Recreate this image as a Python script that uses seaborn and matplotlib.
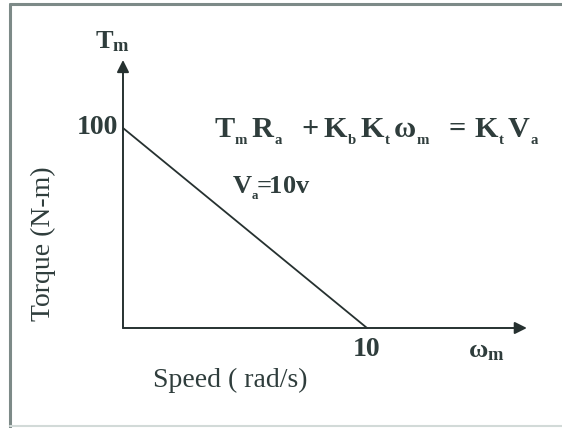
import matplotlib
matplotlib.use("Agg")
import matplotlib.pyplot as plt
from matplotlib.lines import Line2D
import seaborn as sns

# Torque-speed characteristic of a DC motor at Va = 10 V
speed = [0, 10]          # rad/s
torque = [100, 0]        # N-m
y_tick_label = "100"
x_tick_label = "10"
equation = (r"$\mathbf{T_{_m}\,R_{_a}\ \ +K_{_b}\,K_{_t}\,\omega_{_m}\ \ "
            r"=\,K_{_t}\,V_{_a}}$")
voltage_label = r"$\mathbf{V_{_a}\!\!=\!\!10v}$"

sns.set_theme(style="white")
plt.rcParams["font.family"] = ["Liberation Serif", "DejaVu Serif"]
plt.rcParams["mathtext.fontset"] = "custom"
plt.rcParams["mathtext.rm"] = "Liberation Serif"
plt.rcParams["mathtext.it"] = "Liberation Serif:italic"
plt.rcParams["mathtext.bf"] = "Liberation Serif:bold"

ink = "#2f3d3c"
line_ink = "#263130"

fig = plt.figure(figsize=(5.62, 4.28), dpi=100)
fig.patch.set_facecolor("white")

# Frame around the diagram (open on the right)
W, H = 562, 428
fig.add_artist(Line2D([10 / W, 10 / W], [1 - 4 / H, 1 / H],
                      transform=fig.transFigure, color="#7d8a88", lw=2.2))
fig.add_artist(Line2D([10 / W, 1.0], [1 - 4 / H, 1 - 4 / H],
                      transform=fig.transFigure, color="#7d8a88", lw=2.2))
fig.add_artist(Line2D([10 / W, 1.0], [2 / H, 2 / H],
                      transform=fig.transFigure, color="#d2dad8", lw=1.5))

ax = fig.add_axes([0, 0, 1, 1])
ax.set_axis_off()
ax.set_xlim(-5.04, 17.99)
ax.set_ylim(-50, 164)

# Axes with arrow heads
arrow = dict(arrowstyle="-|>", color=line_ink, lw=1.4, mutation_scale=18,
             shrinkA=0, shrinkB=0)
ax.annotate("", xy=(0, 134), xytext=(0, 0), arrowprops=arrow)
ax.annotate("", xy=(16.55, 0), xytext=(0, 0), arrowprops=arrow)

sns.lineplot(x=speed, y=torque, ax=ax, color=line_ink, lw=1.3)

ax.text(-0.2, torque[0] + 0.5, y_tick_label, ha="right", va="center",
        fontsize=20, fontweight="bold", color=ink)
ax.text(speed[1], -10.5, x_tick_label, ha="center", va="center",
        fontsize=20, fontweight="bold", color=ink)

ax.text(-0.45, 143, r"$\mathbf{T_{m}}$", ha="center", va="center",
        fontsize=19, color=ink)
ax.text(14.9, -12, r"$\mathbf{\omega_{m}}$", ha="center", va="center",
        fontsize=19, color=ink)

ax.text(10.4, 98, equation, ha="center", va="center", fontsize=21.8,
        color=ink)
ax.text(4.45, 70, voltage_label, ha="left", va="center", fontsize=19,
        color=ink)

ax.text(-3.28, 42, "Torque (N-m)", rotation=90, ha="center", va="center",
        fontsize=20, color=ink)
ax.text(4.4, -26, "Speed ( rad/s)", ha="center", va="center",
        fontsize=20, color=ink)

fig.savefig("out.png", dpi=100, facecolor="white")
